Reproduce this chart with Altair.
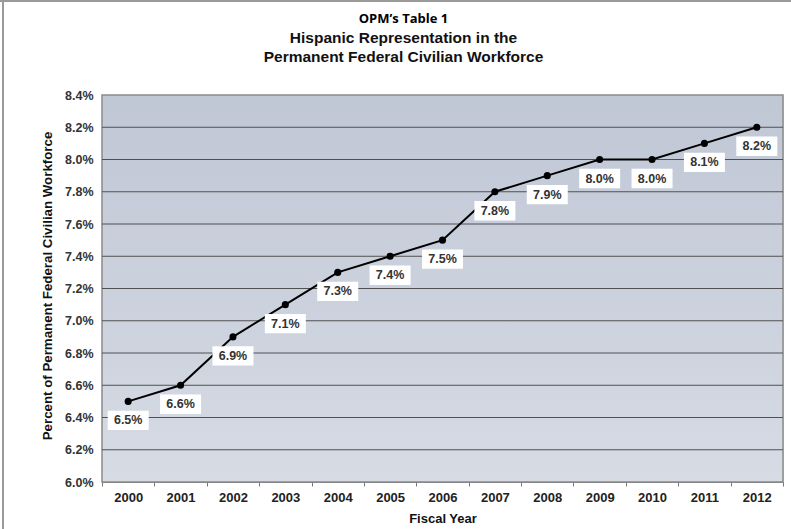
import altair as alt
import pandas as pd

# Fiscal years and Hispanic share of the permanent federal civilian workforce (%)
years = ["2000", "2001", "2002", "2003", "2004", "2005", "2006",
         "2007", "2008", "2009", "2010", "2011", "2012"]
share = [6.5, 6.6, 6.9, 7.1, 7.3, 7.4, 7.5, 7.8, 7.9, 8.0, 8.0, 8.1, 8.2]
y_ticks = [6.0, 6.2, 6.4, 6.6, 6.8, 7.0, 7.2, 7.4, 7.6, 7.8, 8.0, 8.2, 8.4]

df = pd.DataFrame({
    "year": years,
    "share": share,
    "label": [f"{v:.1f}%" for v in share],
})
grid_df = pd.DataFrame({"tick": [t for t in y_ticks if 6.0 < t < 8.4]})

W, H = 681, 387
PAD_L, PAD_T, PAD_R, PAD_B = 102, 95, 8, 47

y_scale = alt.Scale(domain=[y_ticks[0], y_ticks[-1]], nice=False, zero=False)
y_axis = alt.Axis(
    title="Percent of Permanent Federal Civilian Workforce",
    values=y_ticks, grid=False, ticks=False, domain=False,
    labelExpr="format(datum.value, '.1f') + '%'", labelPadding=9,
    labelFont="Liberation Sans", labelFontSize=12.5, labelFontWeight="bold",
    labelColor="#333333", titleFont="Liberation Sans", titleFontSize=13.3,
    titleFontWeight="bold", titleColor="#111111", titleAngle=270,
    titleX=-55, titleY=H / 2 - 3, titleAlign="center", titleBaseline="middle",
)
x_enc = alt.X(
    "year:O",
    scale=alt.Scale(type="band", paddingInner=0, paddingOuter=0),
    axis=alt.Axis(
        title="Fiscal Year", labelAngle=0, tickBand="extent", tickSize=4,
        tickColor="#777777", domainColor="#7a7a7a", labelPadding=5,
        labelFont="Liberation Sans", labelFontSize=13, labelFontWeight="bold",
        labelColor="#222222", titleFont="Liberation Sans", titleFontSize=13,
        titleFontWeight="bold", titleColor="#111111", titleY=36,
        titleBaseline="middle",
    ),
)

# plot-area background with a soft vertical gradient and grey frame
background = alt.Chart(alt.Data(values=[{}])).mark_rect(
    color=alt.Gradient(
        gradient="linear", x1=0, x2=0, y1=0, y2=1,
        stops=[alt.GradientStop(offset=0, color="#c0c7d5"),
               alt.GradientStop(offset=1, color="#d6dbe4")],
    ),
    stroke="#8a8a8a", strokeWidth=1.5,
).encode(x=alt.value(0), x2=alt.value("width"), y=alt.value(0), y2=alt.value("height"))

# outer frame lines of the figure
frame_left = alt.Chart(alt.Data(values=[{}])).mark_rule(color="#9a9a9a", strokeWidth=2).encode(
    x=alt.value(3 - PAD_L), y=alt.value(-PAD_T), y2=alt.value(H + PAD_B)
)
frame_top = alt.Chart(alt.Data(values=[{}])).mark_rule(color="#9a9a9a", strokeWidth=2).encode(
    x=alt.value(-PAD_L), x2=alt.value(W + PAD_R), y=alt.value(1 - PAD_T)
)

grid = alt.Chart(grid_df).mark_rule(color="#505050", strokeWidth=1).encode(
    y=alt.Y("tick:Q", scale=y_scale, axis=y_axis)
)

base = alt.Chart(df).encode(
    x=x_enc,
    y=alt.Y("share:Q", scale=y_scale, axis=y_axis),
)

line = base.mark_line(color="black", strokeWidth=2)
dots = base.mark_circle(size=50, color="black", opacity=1)
boxes = base.mark_point(
    shape="M-1,-0.47L1,-0.47L1,0.47L-1,0.47Z", size=1681, filled=True,
    fill="white", opacity=1, strokeWidth=0, yOffset=19,
)
labels = base.mark_text(
    font="Liberation Sans", fontSize=12.5, fontWeight="bold", color="#333333",
    yOffset=19, baseline="middle",
).encode(text="label:N")

chart = alt.layer(
    background, grid, line, dots, boxes, labels, frame_left, frame_top
).properties(
    width=W, height=H,
    autosize=alt.AutoSizeParams(type="none"),
    padding={"left": PAD_L, "top": PAD_T, "right": PAD_R, "bottom": PAD_B},
    title=alt.Title(
        "OPM\u2019s Table 1",
        subtitle=["Hispanic Representation in the", "Permanent Federal Civilian Workforce"],
        font="Open Sans", fontSize=13, fontWeight="bold", color="#000000",
        subtitleFont="Liberation Sans", subtitleFontSize=15.5,
        subtitleFontWeight="bold", subtitleColor="#111111",
        subtitleLineHeight=19, subtitlePadding=5,
        anchor="middle", dx=-39, offset=-66,
    ),
).configure_view(stroke=None).configure(background="white")

chart.save("out.html", embed_options={"renderer": "svg", "actions": False})
